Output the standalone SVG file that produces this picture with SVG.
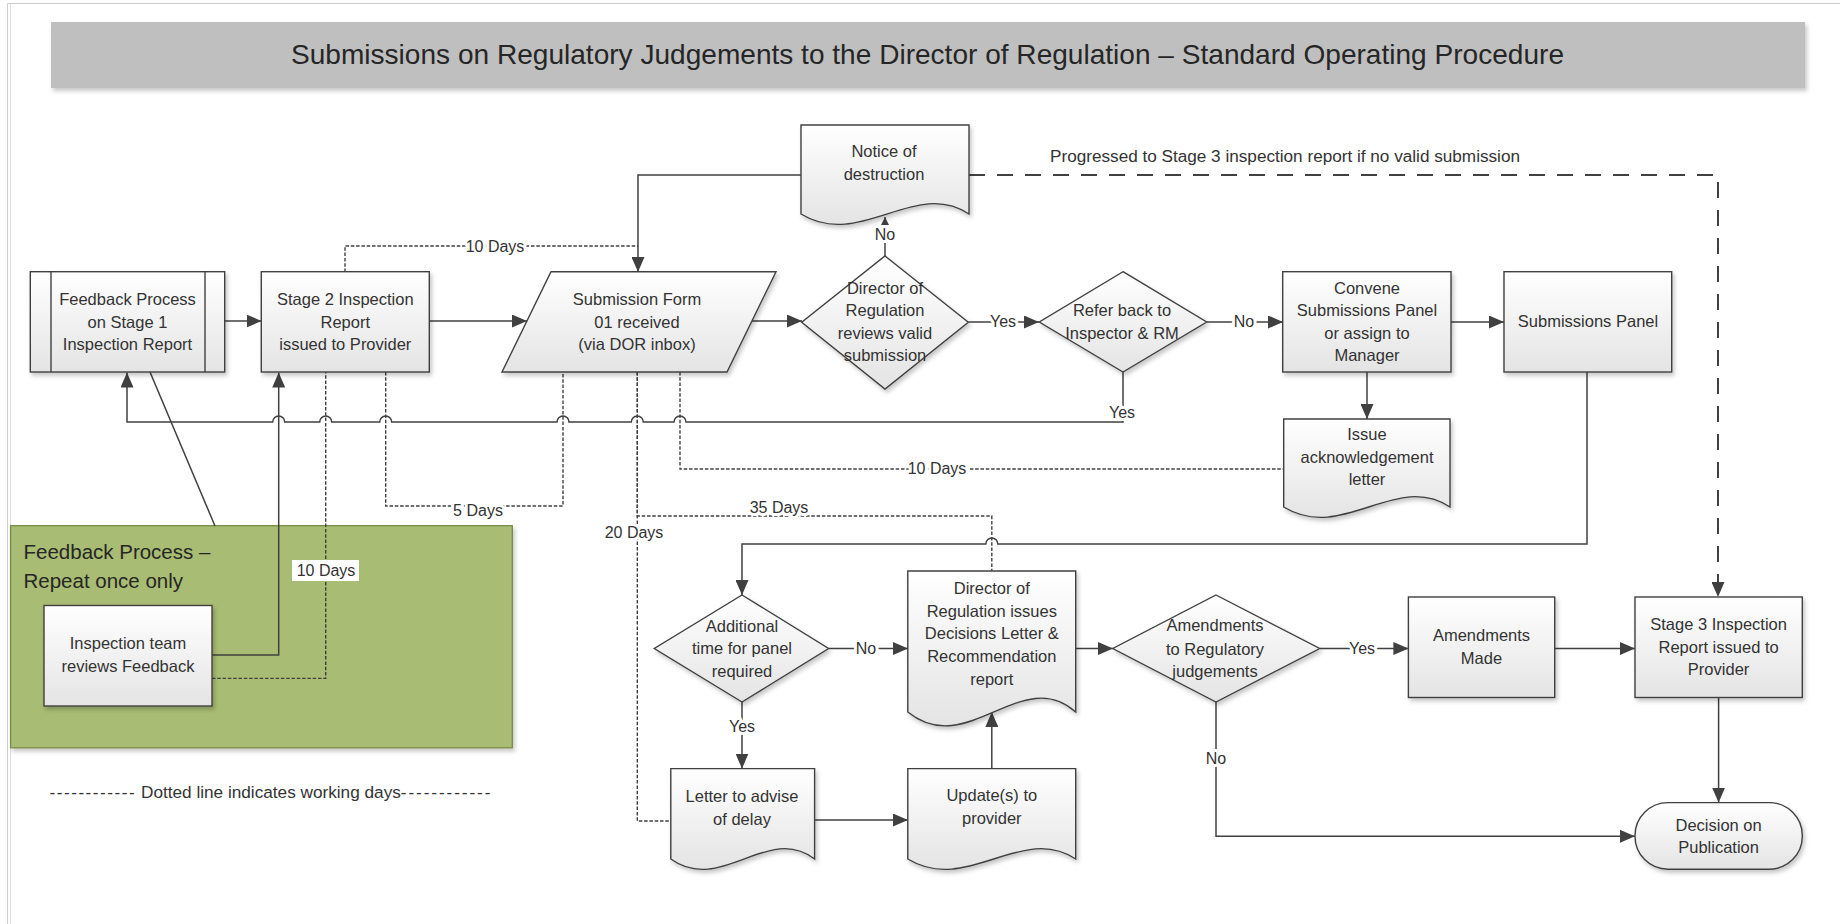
<svg xmlns="http://www.w3.org/2000/svg" width="1840" height="924" viewBox="0 0 1840 924">
<style>
text{font-family:"Liberation Sans",Arial,sans-serif;fill:#333;}
.t{font-size:16.5px;text-anchor:middle;}
.lbl{font-size:16px;text-anchor:middle;stroke:#fff;stroke-width:6px;paint-order:stroke;stroke-linejoin:round;}
.node{fill:url(#g);stroke:#404040;stroke-width:1.4;filter:url(#sh);}
.c{fill:none;stroke:#404040;stroke-width:1.5;}
.ca{fill:none;stroke:#404040;stroke-width:1.5;marker-end:url(#ah);}
.d{fill:none;stroke:#404040;stroke-width:1.4;stroke-dasharray:3.5 1.8;}
.ld{fill:none;stroke:#404040;stroke-width:2;stroke-dasharray:16 12;marker-end:url(#ah);}
</style>
<defs>
<linearGradient id="g" x1="0" y1="0" x2="0" y2="1">
<stop offset="0" stop-color="#ffffff"/>
<stop offset="1" stop-color="#e4e4e4"/>
</linearGradient>
<filter id="sh" x="-10%" y="-10%" width="130%" height="130%">
<feDropShadow dx="2" dy="3" stdDeviation="2" flood-color="#000" flood-opacity="0.22"/>
</filter>
<marker id="ah" markerUnits="userSpaceOnUse" markerWidth="15" markerHeight="13" refX="15" refY="6.5" orient="auto">
<path d="M0,0 L15,6.5 L0,13 Z" fill="#404040"/>
</marker>
<marker id="as" markerUnits="userSpaceOnUse" markerWidth="8" markerHeight="8" refX="8" refY="4" orient="auto">
<path d="M0,0 L8,4 L0,8 Z" fill="#404040"/>
</marker>
</defs>
<rect x="0" y="0" width="1840" height="924" fill="#fff"/>
<g id="page-border" stroke-width="1" fill="none">
<line x1="7.5" y1="3.5" x2="1840" y2="3.5" stroke="#cfcfcf"/>
<line x1="7.5" y1="3.5" x2="7.5" y2="924" stroke="#cfcfcf"/>
<line x1="10.5" y1="4" x2="10.5" y2="924" stroke="#dedede"/>
</g>

<g id="title">
<rect x="51" y="22" width="1754" height="66" fill="#bfbfbf" filter="url(#sh)"/>
<text x="927.5" y="64" style="font-size:28px;text-anchor:middle;fill:#262626" textLength="1273" lengthAdjust="spacingAndGlyphs">Submissions on Regulatory Judgements to the Director of Regulation – Standard Operating Procedure</text>
</g>

<g id="feedback-group">
<rect x="10.6" y="525.7" width="501.7" height="222.1" fill="#a9bc73" stroke="#7a8c45" stroke-width="1.3" filter="url(#sh)"/>
<text x="23.5" y="558.7" style="font-size:20.5px;fill:#262626">Feedback Process –</text>
<text x="23.5" y="587.5" style="font-size:20.5px;fill:#262626">Repeat once only</text>
</g>

<g id="connectors">
<path class="c" d="M150,372 L215,526"/>
<path class="ca" d="M225,321 H261.5"/>
<path class="ca" d="M429.5,321 H527"/>
<path class="ca" d="M751.5,321 H802"/>
<path class="ca" d="M968.5,322 H1039"/>
<path class="ca" d="M1207,322 H1283"/>
<path class="ca" d="M1451,322 H1504"/>
<path class="ca" d="M1367,372 V419"/>
<path class="c" d="M885,256 V217" marker-end="url(#as)"/>
<path class="ca" d="M801,175 H638 V272"/>
<path class="ld" d="M969,175 H1718 V597"/>
<path class="ca" d="M1123,372 V422 H686 A6,6 0 0 0 674,422 H643.3 A6,6 0 0 0 631.3,422 H569 A6,6 0 0 0 557,422 H391.7 A6,6 0 0 0 379.7,422 H331.7 A6,6 0 0 0 319.7,422 H284.7 A6,6 0 0 0 272.7,422 H127 V372.5"/>
<path class="ca" d="M212,655 H278.7 V372.5"/>
<path class="d" d="M212,678.4 H325.7 V372"/>
<path class="d" d="M345,272 V246 H638"/>
<path class="d" d="M385.7,372 V506 H563 V372"/>
<path class="d" d="M680,372 V469 H1283.7"/>
<path class="d" d="M637.3,372 V516 H991.8 V571"/>
<path class="d" d="M637.3,372 V821 H671"/>
<path class="ca" d="M1587,372 V544 H997.8 A6,6 0 0 0 985.8,544 H742 V595"/>
<path class="ca" d="M829,648.5 H908"/>
<path class="ca" d="M742,702 V768.6"/>
<path class="ca" d="M814.6,820 H908"/>
<path class="ca" d="M991.8,768.6 V712"/>
<path class="ca" d="M1075.7,648.5 H1113"/>
<path class="ca" d="M1320,648.5 H1408.4"/>
<path class="ca" d="M1554.7,648.5 H1635"/>
<path class="ca" d="M1718.6,697.5 V802.6"/>
<path class="ca" d="M1216,702 V836.3 H1635"/>
<text class="lbl" x="495" y="252">10 Days</text>
<text x="1050" y="162" style="font-size:16px" textLength="470" lengthAdjust="spacingAndGlyphs">Progressed to Stage 3 inspection report if no valid submission</text>
<text class="lbl" x="885" y="240">No</text>
<text class="lbl" x="1003" y="327">Yes</text>
<text class="lbl" x="1244" y="327">No</text>
<text class="lbl" x="1122" y="418">Yes</text>
<text class="lbl" x="478" y="516">5 Days</text>
<text class="lbl" x="937" y="474">10 Days</text>
<text class="lbl" x="779" y="513">35 Days</text>
<text class="lbl" x="634" y="538">20 Days</text>
<rect x="292" y="560" width="67" height="21" fill="#fff"/>
<text x="326" y="576" style="font-size:16px;text-anchor:middle">10 Days</text>
<text class="lbl" x="866" y="654">No</text>
<text class="lbl" x="742" y="732">Yes</text>
<text class="lbl" x="1362" y="654">Yes</text>
<text class="lbl" x="1216" y="764">No</text>
</g>

<g id="n-feedback">
<rect class="node" x="30.3" y="271.7" width="194.4" height="100.3"/>
<line x1="51" y1="271.7" x2="51" y2="372" stroke="#404040" stroke-width="1.4"/>
<line x1="205" y1="271.7" x2="205" y2="372" stroke="#404040" stroke-width="1.4"/>
<text class="t" x="127.5" y="305">Feedback Process</text>
<text class="t" x="127.5" y="327.5">on Stage 1</text>
<text class="t" x="127.5" y="350">Inspection Report</text>
</g>

<g id="n-stage2">
<rect class="node" x="261.3" y="271.7" width="168" height="100.3"/>
<text class="t" x="345.3" y="305">Stage 2 Inspection</text>
<text class="t" x="345.3" y="327.5">Report</text>
<text class="t" x="345.3" y="350">issued to Provider</text>
</g>

<g id="n-submission-form">
<polygon class="node" points="551,271.7 776,271.7 727,372 502,372"/>
<text class="t" x="637" y="305">Submission Form</text>
<text class="t" x="637" y="327.5">01 received</text>
<text class="t" x="637" y="350">(via DOR inbox)</text>
</g>

<g id="n-notice">
<path class="node" d="M801,125 H969 V214 C915,178 860,250 801,214 Z"/>
<text class="t" x="884" y="157">Notice of</text>
<text class="t" x="884" y="179.5">destruction</text>
</g>

<g id="n-dor-review">
<polygon class="node" points="885,256 968.3,322.3 885,389 801.7,322.3"/>
<text class="t" x="885" y="293.5">Director of</text>
<text class="t" x="885" y="316">Regulation</text>
<text class="t" x="885" y="338.5">reviews valid</text>
<text class="t" x="885" y="361">submission</text>
</g>

<g id="n-refer">
<polygon class="node" points="1123,271.7 1206.7,322 1123,372 1039.3,322"/>
<text class="t" x="1122" y="316">Refer back to</text>
<text class="t" x="1122" y="338.5">Inspector &amp; RM</text>
</g>

<g id="n-convene">
<rect class="node" x="1282.7" y="271.7" width="168.3" height="100.3"/>
<text class="t" x="1367" y="293.5">Convene</text>
<text class="t" x="1367" y="316">Submissions Panel</text>
<text class="t" x="1367" y="338.5">or assign to</text>
<text class="t" x="1367" y="361">Manager</text>
</g>

<g id="n-panel">
<rect class="node" x="1504" y="271.7" width="167.7" height="100.3"/>
<text class="t" x="1588" y="327">Submissions Panel</text>
</g>

<g id="n-ack">
<path class="node" d="M1283.7,419 H1450 V507 C1396,471 1343,543 1283.7,507 Z"/>
<text class="t" x="1367" y="440">Issue</text>
<text class="t" x="1367" y="462.5">acknowledgement</text>
<text class="t" x="1367" y="485">letter</text>
</g>

<g id="n-inspection-team">
<rect class="node" x="44" y="605.5" width="168" height="100.5"/>
<text class="t" x="128" y="649">Inspection team</text>
<text class="t" x="128" y="671.5">reviews Feedback</text>
</g>

<g id="n-additional">
<polygon class="node" points="742,595 828.6,648.5 742,702 654.3,648.5"/>
<text class="t" x="742" y="631.5">Additional</text>
<text class="t" x="742" y="654">time for panel</text>
<text class="t" x="742" y="676.5">required</text>
</g>

<g id="n-letter">
<path class="node" d="M670.8,768.6 H814.6 V859 C768,823 721,895 670.8,859 Z"/>
<text class="t" x="742" y="802">Letter to advise</text>
<text class="t" x="742" y="824.5">of delay</text>
</g>

<g id="n-update">
<path class="node" d="M907.8,768.6 H1075.7 V859 C1022,823 967,895 907.8,859 Z"/>
<text class="t" x="991.8" y="801">Update(s) to</text>
<text class="t" x="991.8" y="823.5">provider</text>
</g>

<g id="n-dor-issues">
<path class="node" d="M907.8,571 H1075.7 V712 C1022,664 967,760 907.8,712 Z"/>
<text class="t" x="991.8" y="594">Director of</text>
<text class="t" x="991.8" y="616.7">Regulation issues</text>
<text class="t" x="991.8" y="639.4">Decisions Letter &amp;</text>
<text class="t" x="991.8" y="662.1">Recommendation</text>
<text class="t" x="991.8" y="684.8">report</text>
</g>

<g id="n-amendments">
<polygon class="node" points="1216,595 1319.7,648.5 1216,702 1112.8,648.5"/>
<text class="t" x="1215" y="631">Amendments</text>
<text class="t" x="1215" y="654.5">to Regulatory</text>
<text class="t" x="1215" y="677">judgements</text>
</g>

<g id="n-amendments-made">
<rect class="node" x="1408.4" y="597" width="146.3" height="100.5"/>
<text class="t" x="1481.5" y="641">Amendments</text>
<text class="t" x="1481.5" y="664">Made</text>
</g>

<g id="n-stage3">
<rect class="node" x="1635" y="597" width="167.3" height="100.5"/>
<text class="t" x="1718.6" y="630">Stage 3 Inspection</text>
<text class="t" x="1718.6" y="652.5">Report issued to</text>
<text class="t" x="1718.6" y="675">Provider</text>
</g>

<g id="n-decision">
<rect class="node" x="1635" y="802.6" width="167.3" height="66.6" rx="33" ry="33"/>
<text class="t" x="1718.6" y="830.5">Decision on</text>
<text class="t" x="1718.6" y="853">Publication</text>
</g>

<g id="legend">
<text x="49.5" y="797.5" style="font-size:17.2px"><tspan style="letter-spacing:1.5px">------------</tspan> Dotted line indicates working days<tspan style="letter-spacing:1.9px">------------</tspan></text>
</g>
</svg>
